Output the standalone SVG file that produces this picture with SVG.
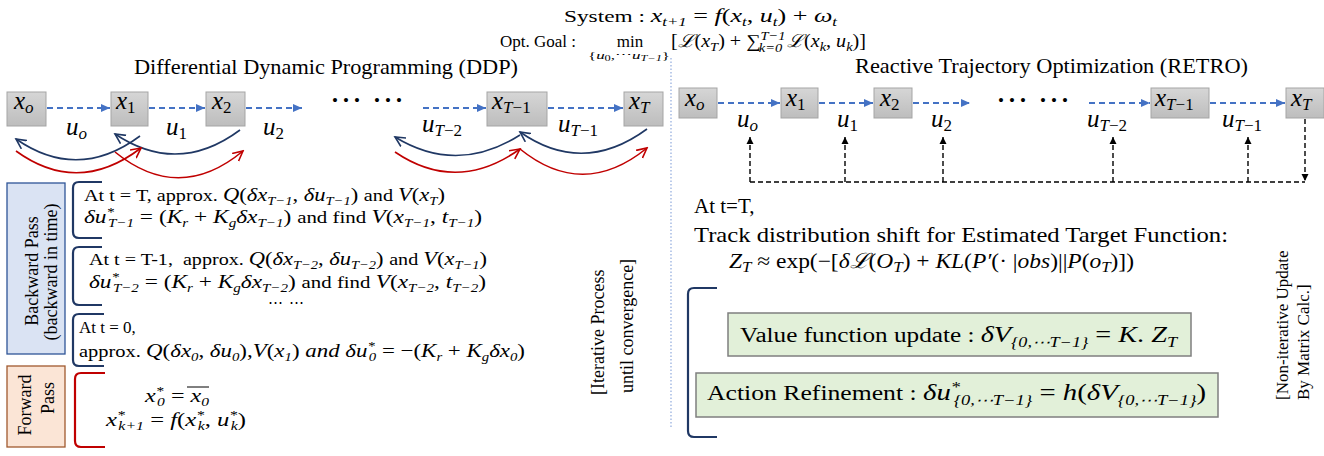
<svg xmlns="http://www.w3.org/2000/svg" width="1324" height="456" viewBox="0 0 1324 456">
<style>
.rm{font-family:"Liberation Serif","DejaVu Serif",serif;fill:#000}
.i{font-style:italic}
.m{font-size:112%}
.s{font-size:72%;font-style:italic}
.node rect{fill:url(#gg);stroke:#A5A5A5;stroke-width:1}
.bl{stroke:#4472C4;stroke-width:2;stroke-dasharray:6 4;fill:none;marker-end:url(#ab)}
.bk{stroke:#000;stroke-width:1.4;stroke-dasharray:5 3;fill:none}
.nv{stroke:#203864;stroke-width:1.6;fill:none;marker-end:url(#an)}
.rd{stroke:#C00000;stroke-width:1.6;fill:none;marker-end:url(#ar)}
.brn{stroke:#203864;stroke-width:2.2;fill:none}
.brr{stroke:#C00000;stroke-width:2.2;fill:none}
.gb{fill:#E2F0D9;stroke:#7F7F7F;stroke-width:1.5}
</style>
<defs>
<linearGradient id="gg" x1="0" y1="0" x2="0" y2="1"><stop offset="0" stop-color="#D6D6D6"/><stop offset="1" stop-color="#BDBDBD"/></linearGradient>
<marker id="ab" markerUnits="userSpaceOnUse" markerWidth="10" markerHeight="10" refX="9" refY="5" orient="auto"><path d="M0,1 L9,5 L0,9 Z" fill="#4472C4"/></marker>
<marker id="ak" markerUnits="userSpaceOnUse" markerWidth="8" markerHeight="8" refX="7" refY="4" orient="auto"><path d="M0,0.5 L7,4 L0,7.5 Z" fill="#000"/></marker>
<marker id="an" markerUnits="userSpaceOnUse" markerWidth="12" markerHeight="12" refX="10" refY="6" orient="auto"><path d="M0,1 L10,6 L0,11" fill="none" stroke="#203864" stroke-width="1.6"/></marker>
<marker id="ar" markerUnits="userSpaceOnUse" markerWidth="12" markerHeight="12" refX="10" refY="6" orient="auto"><path d="M0,1 L10,6 L0,11" fill="none" stroke="#C00000" stroke-width="1.6"/></marker>
</defs>
<rect width="1324" height="456" fill="#fff"/>

<g id="header">
<text class="rm" x="564" y="22" font-size="17" textLength="273" lengthAdjust="spacingAndGlyphs">System : <tspan class="m i">x</tspan><tspan class="s" dy="4">t+1</tspan><tspan class="m" dy="-4"> = </tspan><tspan class="m i">f</tspan><tspan class="m">(</tspan><tspan class="m i">x</tspan><tspan class="s" dy="4">t</tspan><tspan class="m" dy="-4">, </tspan><tspan class="m i">u</tspan><tspan class="s" dy="4">t</tspan><tspan class="m" dy="-4">) + </tspan><tspan class="m i">ω</tspan><tspan class="s" dy="4">t</tspan></text>
<text class="rm" x="500" y="47" font-size="17">Opt. Goal :</text>
<text class="rm" x="630" y="47" font-size="17" text-anchor="middle">min</text>
<text class="rm" x="629" y="59" font-size="11" text-anchor="middle" textLength="82" lengthAdjust="spacingAndGlyphs">{<tspan class="i">u</tspan><tspan font-size="8" dy="2">0</tspan><tspan dy="-2">,⋯</tspan><tspan class="i">u</tspan><tspan font-size="8" class="i" dy="2">T−1</tspan><tspan dy="-2">}</tspan></text>
<text class="rm" x="671" y="47" font-size="18" textLength="195" lengthAdjust="spacingAndGlyphs">[<tspan class="i">ℒ</tspan>(<tspan class="i">x</tspan><tspan class="s" dy="4">T</tspan><tspan dy="-4">) + ∑</tspan><tspan class="s" dy="-7">T−1</tspan><tspan class="s" dx="-24" dy="12">k=0</tspan><tspan dy="-5"> </tspan><tspan class="i">ℒ</tspan>(<tspan class="i">x</tspan><tspan class="s" dy="4">k</tspan><tspan dy="-4">, </tspan><tspan class="i">u</tspan><tspan class="s" dy="4">k</tspan><tspan dy="-4">)]</tspan></text>
</g>

<g id="titles">
<text class="rm" x="134" y="74" font-size="21" textLength="384" lengthAdjust="spacingAndGlyphs">Differential Dynamic Programming (DDP)</text>
<text class="rm" x="855" y="73" font-size="21" textLength="393" lengthAdjust="spacingAndGlyphs">Reactive Trajectory Optimization (RETRO)</text>
</g>

<line id="divider" x1="671" y1="58" x2="671" y2="428" stroke="#8FAADC" stroke-width="1.2" stroke-dasharray="1.5 2"/>

<g id="ddp-x0" class="node"><rect x="7" y="92" width="39" height="34"/><text class="rm i" x="14" y="109" font-size="25">x<tspan font-size="17" dy="4">o</tspan></text></g>
<g id="ddp-x1" class="node"><rect x="111" y="92" width="37" height="34"/><text class="rm i" x="116" y="109" font-size="25">x<tspan font-size="17" font-style="normal" dy="4">1</tspan></text></g>
<g id="ddp-x2" class="node"><rect x="206" y="92" width="39" height="34"/><text class="rm i" x="212" y="109" font-size="25">x<tspan font-size="17" font-style="normal" dy="4">2</tspan></text></g>
<g id="ddp-xT1" class="node"><rect x="487" y="92" width="60" height="34"/><text class="rm i" x="492" y="109" font-size="25">x<tspan font-size="17" dy="4">T</tspan><tspan font-size="17" font-style="normal">−1</tspan></text></g>
<g id="ddp-xT" class="node"><rect x="624" y="92" width="39" height="34"/><text class="rm i" x="629" y="109" font-size="25">x<tspan font-size="17" dy="4">T</tspan></text></g>

<g id="retro-x0" class="node"><rect x="679" y="88" width="38" height="30"/><text class="rm i" x="685" y="106" font-size="25">x<tspan font-size="17" dy="4">o</tspan></text></g>
<g id="retro-x1" class="node"><rect x="781" y="88" width="37" height="30"/><text class="rm i" x="786" y="106" font-size="25">x<tspan font-size="17" font-style="normal" dy="4">1</tspan></text></g>
<g id="retro-x2" class="node"><rect x="874" y="88" width="38" height="30"/><text class="rm i" x="880" y="106" font-size="25">x<tspan font-size="17" font-style="normal" dy="4">2</tspan></text></g>
<g id="retro-xT1" class="node"><rect x="1151" y="88" width="58" height="30"/><text class="rm i" x="1155" y="106" font-size="25">x<tspan font-size="17" dy="4">T</tspan><tspan font-size="17" font-style="normal">−1</tspan></text></g>
<g id="retro-xT" class="node"><rect x="1286" y="88" width="38" height="30"/><text class="rm i" x="1291" y="106" font-size="25">x<tspan font-size="17" dy="4">T</tspan></text></g>

<g id="connectors">
<line class="bl" x1="47" y1="108" x2="110" y2="108"/>
<line class="bl" x1="149" y1="108" x2="205" y2="108"/>
<line class="bl" x1="246" y1="108" x2="302" y2="108"/>
<line class="bl" x1="423" y1="108" x2="486" y2="108"/>
<line class="bl" x1="548" y1="108" x2="623" y2="108"/>
<path class="nv" d="M140,136 Q78,182 16,139"/>
<path class="nv" d="M240,130 Q178,176 115,134"/>
<path class="rd" d="M16,151 Q78,196 141,148"/>
<path class="rd" d="M115,152 Q179,204 243,151"/>
<path class="nv" d="M647,129 Q583,176 520,132"/>
<path class="nv" d="M520,135 Q457,175 395,137"/>
<path class="rd" d="M395,152 Q457,194 520,149"/>
<path class="rd" d="M520,149 Q583,200 647,148"/>

<line class="bl" x1="718" y1="103" x2="780" y2="103"/>
<line class="bl" x1="819" y1="103" x2="873" y2="103"/>
<line class="bl" x1="913" y1="103" x2="970" y2="103"/>
<line class="bl" x1="1089" y1="103" x2="1150" y2="103"/>
<line class="bl" x1="1210" y1="103" x2="1285" y2="103"/>

<line class="bk" x1="750" y1="182" x2="1305" y2="182"/>
<line class="bk" x1="750" y1="182" x2="750" y2="137" marker-end="url(#ak)"/>
<line class="bk" x1="845" y1="182" x2="845" y2="137" marker-end="url(#ak)"/>
<line class="bk" x1="943" y1="182" x2="943" y2="137" marker-end="url(#ak)"/>
<line class="bk" x1="1113" y1="182" x2="1113" y2="137" marker-end="url(#ak)"/>
<line class="bk" x1="1248" y1="182" x2="1248" y2="137" marker-end="url(#ak)"/>
<line class="bk" x1="1305" y1="119" x2="1305" y2="181" marker-end="url(#ak)"/>
</g>

<g id="labels">
<text class="rm i" x="66" y="135" font-size="25">u<tspan font-size="17" dy="4">o</tspan></text>
<text class="rm i" x="166" y="135" font-size="25">u<tspan font-size="17" font-style="normal" dy="4">1</tspan></text>
<text class="rm i" x="263" y="135" font-size="25">u<tspan font-size="17" font-style="normal" dy="4">2</tspan></text>
<text class="rm i" x="422" y="132" font-size="25">u<tspan font-size="17" dy="4">T</tspan><tspan font-size="17" font-style="normal">−2</tspan></text>
<text class="rm i" x="558" y="132" font-size="25">u<tspan font-size="17" dy="4">T</tspan><tspan font-size="17" font-style="normal">−1</tspan></text>
<text class="rm" x="332" y="106" font-size="17" letter-spacing="5">••• •••</text>
<text class="rm i" x="737" y="127" font-size="25">u<tspan font-size="17" dy="4">o</tspan></text>
<text class="rm i" x="837" y="127" font-size="25">u<tspan font-size="17" font-style="normal" dy="4">1</tspan></text>
<text class="rm i" x="931" y="127" font-size="25">u<tspan font-size="17" font-style="normal" dy="4">2</tspan></text>
<text class="rm i" x="1087" y="127" font-size="25">u<tspan font-size="17" dy="4">T</tspan><tspan font-size="17" font-style="normal">−2</tspan></text>
<text class="rm i" x="1222" y="127" font-size="25">u<tspan font-size="17" dy="4">T</tspan><tspan font-size="17" font-style="normal">−1</tspan></text>
<text class="rm" x="998" y="106" font-size="17" letter-spacing="5">••• •••</text>
</g>

<g id="backward-pass">
<rect x="7" y="183" width="58" height="171" fill="#DAE3F3" stroke="#2F5597" stroke-width="1.3"/>
<text class="rm" font-size="18" text-anchor="middle" transform="translate(38,271) rotate(-90)">Backward Pass</text>
<text class="rm" font-size="18" text-anchor="middle" transform="translate(57,272) rotate(-90)">(backward in time)</text>
</g>
<g id="forward-pass">
<rect x="7" y="366" width="58" height="81" fill="#FBE5D6" stroke="#A0592E" stroke-width="1.3"/>
<text class="rm" font-size="18" text-anchor="middle" transform="translate(31,405) rotate(-90)">Forward</text>
<text class="rm" font-size="18" text-anchor="middle" transform="translate(54,398) rotate(-90)">Pass</text>
</g>

<g id="backward-steps">
<path class="brn" d="M102,182 L79,182 Q73,182 73,188 L73,232 Q73,238 79,238 L102,238"/>
<path class="brn" d="M102,247 L79,247 Q73,247 73,253 L73,299 Q73,305 79,305 L102,305"/>
<path class="brn" d="M104,314 L79,314 Q73,314 73,320 L73,360 Q73,366 79,366 L104,366"/>
<text class="rm" x="84" y="201" font-size="17" textLength="361" lengthAdjust="spacingAndGlyphs">At t = T, approx. <tspan class="m i">Q</tspan><tspan class="m">(</tspan><tspan class="m i">δx</tspan><tspan class="s" dy="4">T−1</tspan><tspan class="m" dy="-4">, </tspan><tspan class="m i">δu</tspan><tspan class="s" dy="4">T−1</tspan><tspan class="m" dy="-4">) </tspan>and <tspan class="m i">V</tspan><tspan class="m">(</tspan><tspan class="m i">x</tspan><tspan class="s" dy="4">T</tspan><tspan class="m" dy="-4">)</tspan></text>
<text class="rm" x="84" y="223" font-size="17" textLength="398" lengthAdjust="spacingAndGlyphs"><tspan class="m i">δu</tspan><tspan class="s" dy="-7">*</tspan><tspan class="s" dx="-5" dy="11">T−1</tspan><tspan class="m" dy="-4"> = (</tspan><tspan class="m i">K</tspan><tspan class="s" dy="4">r</tspan><tspan class="m" dy="-4"> + </tspan><tspan class="m i">K</tspan><tspan class="s" dy="4">g</tspan><tspan class="m i" dy="-4">δx</tspan><tspan class="s" dy="4">T−1</tspan><tspan class="m" dy="-4">) </tspan>and find <tspan class="m i">V</tspan><tspan class="m">(</tspan><tspan class="m i">x</tspan><tspan class="s" dy="4">T−1</tspan><tspan class="m" dy="-4">, </tspan><tspan class="m i">t</tspan><tspan class="s" dy="4">T−1</tspan><tspan class="m" dy="-4">)</tspan></text>
<text class="rm" x="89" y="265" font-size="17" textLength="398" lengthAdjust="spacingAndGlyphs" xml:space="preserve">At t = T-1,  approx. <tspan class="m i">Q</tspan><tspan class="m">(</tspan><tspan class="m i">δx</tspan><tspan class="s" dy="4">T−2</tspan><tspan class="m" dy="-4">, </tspan><tspan class="m i">δu</tspan><tspan class="s" dy="4">T−2</tspan><tspan class="m" dy="-4">) </tspan>and <tspan class="m i">V</tspan><tspan class="m">(</tspan><tspan class="m i">x</tspan><tspan class="s" dy="4">T−1</tspan><tspan class="m" dy="-4">)</tspan></text>
<text class="rm" x="89" y="288" font-size="17" textLength="397" lengthAdjust="spacingAndGlyphs"><tspan class="m i">δu</tspan><tspan class="s" dy="-7">*</tspan><tspan class="s" dx="-5" dy="11">T−2</tspan><tspan class="m" dy="-4"> = (</tspan><tspan class="m i">K</tspan><tspan class="s" dy="4">r</tspan><tspan class="m" dy="-4"> + </tspan><tspan class="m i">K</tspan><tspan class="s" dy="4">g</tspan><tspan class="m i" dy="-4">δx</tspan><tspan class="s" dy="4">T−2</tspan><tspan class="m" dy="-4">) </tspan>and find <tspan class="m i">V</tspan><tspan class="m">(</tspan><tspan class="m i">x</tspan><tspan class="s" dy="4">T−2</tspan><tspan class="m" dy="-4">, </tspan><tspan class="m i">t</tspan><tspan class="s" dy="4">T−2</tspan><tspan class="m" dy="-4">)</tspan></text>
<text class="rm" x="268" y="307" font-size="15" letter-spacing="1">⋯ ⋯</text>
<text class="rm" x="79" y="333" font-size="17">At t = 0,</text>
<text class="rm" x="79" y="357" font-size="17" textLength="446" lengthAdjust="spacingAndGlyphs">approx. <tspan class="m i">Q</tspan><tspan class="m">(</tspan><tspan class="m i">δx</tspan><tspan class="s" font-style="normal" dy="4">0</tspan><tspan class="m" dy="-4">, </tspan><tspan class="m i">δu</tspan><tspan class="s" font-style="normal" dy="4">0</tspan><tspan class="m" dy="-4">),</tspan><tspan class="m i">V</tspan><tspan class="m">(</tspan><tspan class="m i">x</tspan><tspan class="s" font-style="normal" dy="4">1</tspan><tspan class="m" dy="-4">) </tspan><tspan class="m i">and δu</tspan><tspan class="s" dy="-7">*</tspan><tspan class="s" font-style="normal" dx="-5" dy="11">0</tspan><tspan class="m" dy="-4"> = −(</tspan><tspan class="m i">K</tspan><tspan class="s" dy="4">r</tspan><tspan class="m" dy="-4"> + </tspan><tspan class="m i">K</tspan><tspan class="s" dy="4">g</tspan><tspan class="m i" dy="-4">δx</tspan><tspan class="s" font-style="normal" dy="4">0</tspan><tspan class="m" dy="-4">)</tspan></text>
</g>

<g id="forward-steps">
<path class="brr" d="M105,373 L81,373 Q75,373 75,379 L75,441 Q75,447 81,447 L105,447"/>
<text class="rm" x="145" y="402" font-size="17" textLength="64" lengthAdjust="spacingAndGlyphs"><tspan class="m i">x</tspan><tspan class="s" dy="-7">*</tspan><tspan class="s" font-style="normal" dx="-5" dy="11">0</tspan><tspan class="m" dy="-4"> = </tspan><tspan class="m i">x</tspan><tspan class="s" font-style="normal" dy="4">0</tspan></text>
<line x1="187" y1="387" x2="209" y2="387" stroke="#000" stroke-width="1"/>
<text class="rm" x="106" y="426" font-size="17" textLength="140" lengthAdjust="spacingAndGlyphs"><tspan class="m i">x</tspan><tspan class="s" dy="-7">*</tspan><tspan class="s" dx="-5" dy="11">k+1</tspan><tspan class="m" dy="-4"> = </tspan><tspan class="m i">f</tspan><tspan class="m">(</tspan><tspan class="m i">x</tspan><tspan class="s" dy="-7">*</tspan><tspan class="s" dx="-5" dy="11">k</tspan><tspan class="m" dy="-4">, </tspan><tspan class="m i">u</tspan><tspan class="s" dy="-7">*</tspan><tspan class="s" dx="-5" dy="11">k</tspan><tspan class="m" dy="-4">)</tspan></text>
</g>

<g id="iterative-note">
<text class="rm" font-size="18" transform="translate(604,395) rotate(-90)">[Iterative Process</text>
<text class="rm" font-size="18" transform="translate(633,393) rotate(-90)">until convergence]</text>
</g>

<g id="retro-text">
<text class="rm" x="694" y="213" font-size="21">At t=T,</text>
<text class="rm" x="694" y="242" font-size="21" textLength="534" lengthAdjust="spacingAndGlyphs">Track distribution shift for Estimated Target Function:</text>
<text class="rm" x="729" y="268" font-size="21" textLength="405" lengthAdjust="spacingAndGlyphs"><tspan class="i">Z</tspan><tspan class="s" dy="4">T</tspan><tspan dy="-4"> ≈ exp(−[</tspan><tspan class="i">δℒ</tspan>(<tspan class="i">O</tspan><tspan class="s" dy="4">T</tspan><tspan dy="-4">) + </tspan><tspan class="i">KL</tspan>(<tspan class="i">P′</tspan>(· |<tspan class="i">obs</tspan>)||<tspan class="i">P</tspan>(<tspan class="i">o</tspan><tspan class="s" dy="4">T</tspan><tspan dy="-4">)])</tspan></text>
</g>

<g id="retro-updates">
<path class="brn" d="M717,288 L694,288 Q688,288 688,294 L688,431 Q688,437 694,437 L717,437"/>
<g id="value-update">
<rect class="gb" x="728" y="313" width="463" height="43"/>
<text class="rm" x="740" y="342" font-size="20" textLength="437" lengthAdjust="spacingAndGlyphs">Value function update : <tspan class="m i">δV</tspan><tspan class="s" font-style="normal" dy="5">{0,⋯</tspan><tspan class="s">T</tspan><tspan class="s" font-style="normal">−1}</tspan><tspan class="m" dy="-5"> = </tspan><tspan class="m i">K</tspan><tspan class="m">. </tspan><tspan class="m i">Z</tspan><tspan class="s" dy="5">T</tspan></text>
</g>
<g id="action-refinement">
<rect class="gb" x="696" y="373" width="522" height="44"/>
<text class="rm" x="707" y="400" font-size="20" textLength="499" lengthAdjust="spacingAndGlyphs">Action Refinement : <tspan class="m i">δu</tspan><tspan class="s" dy="-8">*</tspan><tspan class="s" font-style="normal" dx="-5" dy="13">{0,⋯</tspan><tspan class="s">T</tspan><tspan class="s" font-style="normal">−1}</tspan><tspan class="m" dy="-5"> = </tspan><tspan class="m i">h</tspan><tspan class="m">(</tspan><tspan class="m i">δV</tspan><tspan class="s" font-style="normal" dy="5">{0,⋯</tspan><tspan class="s">T</tspan><tspan class="s" font-style="normal">−1}</tspan><tspan class="m" dy="-5">)</tspan></text>
</g>
</g>

<g id="noniterative-note">
<text class="rm" font-size="17" transform="translate(1288,400) rotate(-90)">[Non-iterative Update</text>
<text class="rm" font-size="17" transform="translate(1309,400) rotate(-90)">By Matrix Calc.]</text>
</g>
</svg>
